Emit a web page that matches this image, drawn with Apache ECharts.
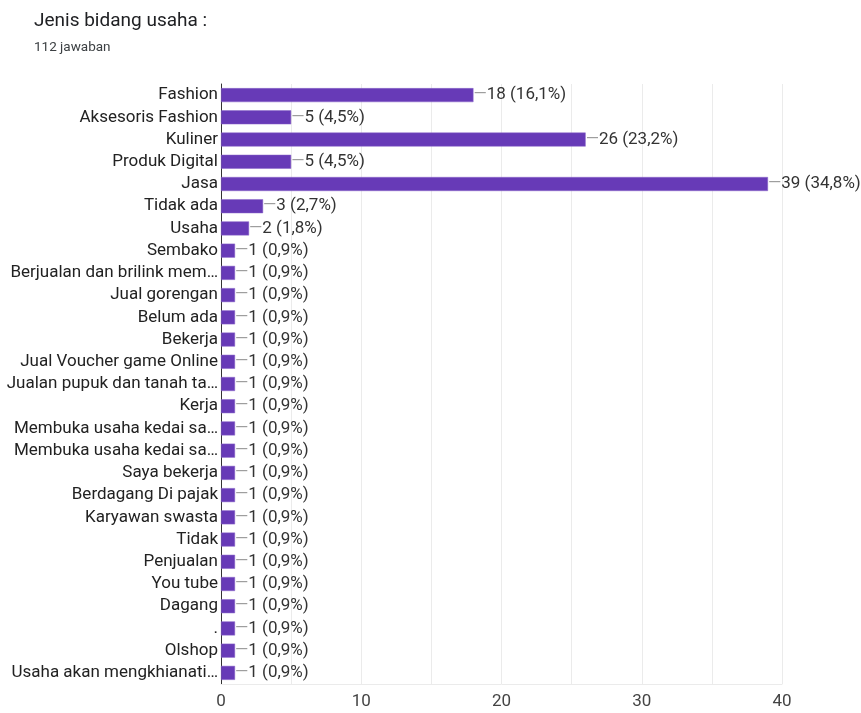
<!DOCTYPE html>
<html>
<head>
<meta charset="utf-8">
<script src="https://cdn.jsdelivr.net/npm/echarts@6/dist/echarts.min.js"></script>
<style>
html,body{margin:0;padding:0;background:#fff;}
#chart{width:861px;height:713px;}
</style>
</head>
<body>
<div id="chart"></div>
<script>
const titleText = 'Jenis bidang usaha :';
const subtitleText = '112 jawaban';
const totalResponses = 112;
const categories = [
  'Fashion','Aksesoris Fashion','Kuliner','Produk Digital','Jasa','Tidak ada','Usaha','Sembako',
  'Berjualan dan brilink mem…','Jual gorengan','Belum ada','Bekerja','Jual Voucher game Online',
  'Jualan pupuk dan tanah ta…','Kerja','Membuka usaha kedai sa…','Membuka usaha kedai sa…',
  'Saya bekerja','Berdagang Di pajak','Karyawan swasta','Tidak','Penjualan','You tube','Dagang',
  '.','Olshop','Usaha akan mengkhianati…'
];
const values = [18,5,26,5,39,3,2,1,1,1,1,1,1,1,1,1,1,1,1,1,1,1,1,1,1,1,1];
const xTicks = [0,10,20,30,40];

function pct(v){ return (v/totalResponses*100).toFixed(1).replace('.',','); }

const chart = echarts.init(document.getElementById('chart'));
chart.setOption({
  animation:false,
  backgroundColor:'#fff',
  textStyle:{fontFamily:'Roboto, Arial, sans-serif'},
  title:[
    {text:titleText,left:34,top:12,padding:0,textStyle:{fontSize:19,fontWeight:'normal',color:'#202124',fontFamily:'Roboto'}},
    {text:subtitleText,left:34,top:41,padding:0,textStyle:{fontSize:13.5,fontWeight:'normal',color:'#3c4043',fontFamily:'Roboto'}}
  ],
  grid:{left:221,right:79,top:84,height:600,containLabel:false},
  xAxis:{
    type:'value',min:0,max:40,interval:5,
    axisLine:{show:true,lineStyle:{color:'#ebebeb',width:1}},axisTick:{show:false},
    splitLine:{show:true,lineStyle:{color:'#ebebeb',width:1}},
    axisLabel:{fontSize:17,color:'#444',margin:9,fontFamily:'Roboto',
      formatter:function(v){return xTicks.indexOf(v)>=0?String(v):'';}}
  },
  yAxis:{
    type:'category',data:categories,inverse:true,
    axisLine:{show:true,lineStyle:{color:'#333',width:1}},
    axisTick:{show:false},
    axisLabel:{fontSize:17,color:'#222',margin:3,fontFamily:'Roboto',interval:0}
  },
  series:[{
    type:'bar',data:values,barWidth:14,
    itemStyle:{color:'#673ab7',borderColor:'#8a66c9',borderWidth:0.5},
    label:{show:true,position:'right',distance:0,
      formatter:function(p){return '{d|—}{v|'+p.value+' ('+pct(p.value)+'%)}';},
      rich:{
        d:{color:'#9e9e9e',fontSize:17,fontFamily:'Roboto'},
        v:{color:'#333',fontSize:17,fontFamily:'Roboto'}
      }
    }
  }]
});
</script>
</body>
</html>
